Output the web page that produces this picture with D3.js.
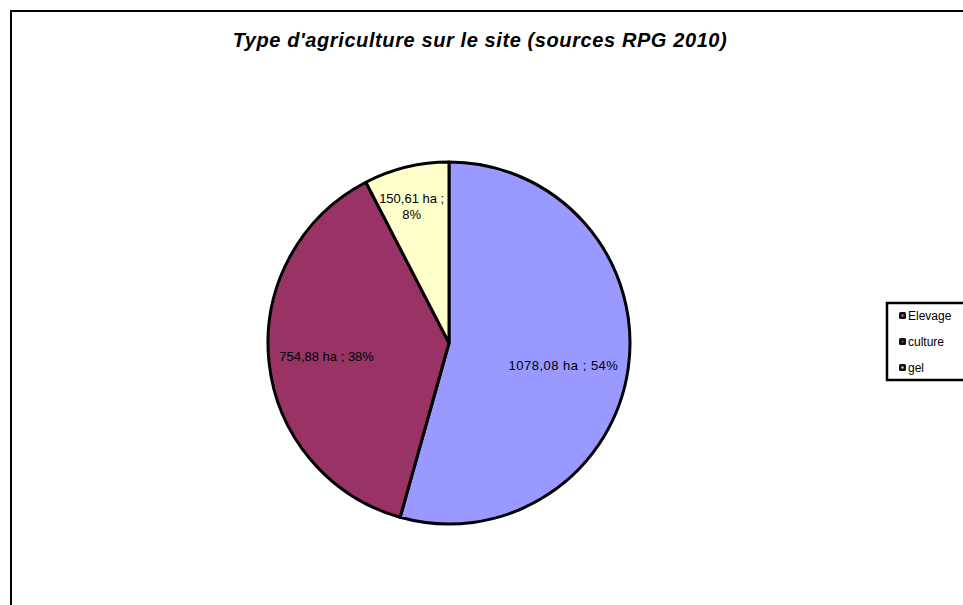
<!DOCTYPE html>
<html>
<head>
<meta charset="utf-8">
<script src="https://cdn.jsdelivr.net/npm/d3@7"></script>
<style>
  body { margin: 0; background: #fff; }
  text { font-family: "Liberation Sans", Arial, sans-serif; }
</style>
</head>
<body>
<svg id="chart" width="963" height="605"></svg>
<script>
// data
var categories = ["Elevage", "culture", "gel"];
var areas = [1078.08, 754.88, 150.61];
var percents = [54, 38, 8];
var colors = ["#9999FF", "#993366", "#FFFFCC"];

var svg = d3.select("#chart");

// outer frame (runs off the right/bottom edge like the reference)
svg.append("rect")
    .attr("x", 11).attr("y", 11)
    .attr("width", 1000).attr("height", 700)
    .attr("fill", "#fff")
    .attr("stroke", "#000")
    .attr("stroke-width", 2);

svg.append("text")
    .attr("x", 480).attr("y", 47)
    .attr("text-anchor", "middle")
    .style("font-size", "20px")
    .style("font-weight", "bold")
    .style("font-style", "italic")
    .style("letter-spacing", "0.6px")
    .text("Type d'agriculture sur le site (sources RPG 2010)");

var data = categories.map(function(c, i) {
    return { name: c, value: areas[i], pct: percents[i], color: colors[i] };
});

var cx = 449, cy = 343, r = 181;

var pie = d3.pie()
    .sort(null)
    .value(function(d) { return d.value; });

var arc = d3.arc().innerRadius(0).outerRadius(r);

var grp = svg.append("g")
    .attr("transform", "translate(" + cx + "," + cy + ")");

var arcs = pie(data);

grp.selectAll("path")
    .data(arcs)
  .enter().append("path")
    .attr("d", arc)
    .attr("fill", function(d) { return d.data.color; })
    .attr("stroke", "#000")
    .attr("stroke-width", 3)
    .attr("stroke-linejoin", "round");

function fmt(v) { return d3.format(".2f")(v).replace(".", ","); }

// labels sit along the bisector of each slice, at a fraction of the radius,
// with a small nudge to match the reference
var labelRadius = [0.655, 0.68, 0.78];
var nudge = [[-3, 6], [0, 0], [-4, 0]];

grp.selectAll("text.lbl")
    .data(arcs)
  .enter().append("text")
    .attr("class", "lbl")
    .attr("text-anchor", "middle")
    .style("font-size", "13px")
    .style("letter-spacing", function(d, i) { return i === 0 ? "0.5px" : "0px"; })
    .attr("fill", "#000")
    .each(function(d, i) {
        var a = (d.startAngle + d.endAngle) / 2;
        var k = r * labelRadius[i];
        var x = Math.sin(a) * k + nudge[i][0], y = -Math.cos(a) * k + nudge[i][1];
        var t = d3.select(this);
        if (i === 2) {
            t.append("tspan").attr("x", x).attr("y", y - 3).text(fmt(d.data.value) + " ha ;");
            t.append("tspan").attr("x", x).attr("y", y + 13).text(d.data.pct + "%");
        } else {
            t.attr("x", x).attr("y", y + 5).text(fmt(d.data.value) + " ha ; " + d.data.pct + "%");
        }
    });

// legend
var lg = svg.append("g").attr("transform", "translate(887,303)");
lg.append("rect")
    .attr("width", 90).attr("height", 77)
    .attr("fill", "#fff")
    .attr("stroke", "#000")
    .attr("stroke-width", 2.5);

var item = lg.selectAll("g.item")
    .data(data)
  .enter().append("g")
    .attr("class", "item")
    .attr("transform", function(d, i) { return "translate(12," + (13 + i * 26) + ")"; });

item.append("rect")
    .attr("x", 0).attr("y", -4)
    .attr("width", 7).attr("height", 7)
    .attr("rx", 1.5)
    .attr("fill", "#111");
item.append("rect")
    .attr("x", 2.5).attr("y", -1.5)
    .attr("width", 2).attr("height", 2)
    .attr("fill", function(d) { return d.color; });
item.append("text")
    .attr("x", 9).attr("y", 4)
    .style("font-size", "12px")
    .text(function(d) { return d.name; });
</script>
</body>
</html>
